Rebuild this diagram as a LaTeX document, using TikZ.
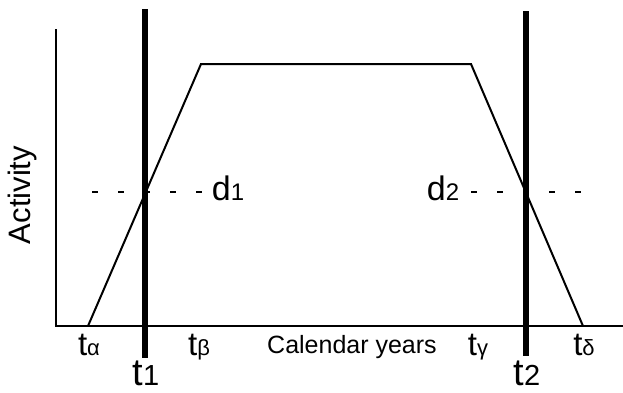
\documentclass[tikz,border=0pt]{standalone}
\usepackage{fontspec}
\setmainfont{Liberation Sans}
\newcommand{\fs}[1]{\fontsize{#1}{#1}\selectfont}

\begin{document}
\begin{tikzpicture}[x=1pt,y=-1pt,
  lbl/.style={inner sep=0pt,anchor=base},
  thin line/.style={line width=2pt},
  cut/.style={line width=6pt},
  level/.style={line width=2pt,dash pattern=on 6pt off 20pt}]
  \useasboundingbox (0,0) rectangle (623,392);
  % axes
  \coordinate (top) at (56,29);
  \coordinate (origin) at (56,326);
  \coordinate (right) at (623,326);
  \draw[thin line] (top) -- (origin) -- (right);
  % activity curve
  \coordinate (ta) at (88,326);
  \coordinate (tb) at (201,64);
  \coordinate (tg) at (471,64);
  \coordinate (td) at (583,326);
  \draw[thin line,line join=miter] (ta) -- (tb) -- (tg) -- (td);
  % the two dates
  \draw[cut] (144.5,9) -- (144.5,358);
  \draw[cut] (526,11) -- (526,356);
  % levels d1, d2
  \draw[level] (92,191.5) -- (203,191.5);
  \draw[level] (471,191.5) -- (581,191.5);
  \node[lbl] (d1) at (228,200) {\fs{34}d\fs{24}1};
  \node[lbl] (d2) at (443,200) {\fs{34}d\fs{24}2};
  % labels
  \node[lbl] (talpha) at (89,355) {\fs{33}t\fs{22}α};
  \node[lbl] (tbeta) at (199,355) {\fs{33}t\fs{22}β};
  \node[lbl] (tgamma) at (478,355) {\fs{33}t\fs{22}γ};
  \node[lbl] (tdelta) at (584,355) {\fs{33}t\fs{22}δ};
  \node[lbl] (tone) at (146,385) {\fs{38}t\fs{29}1};
  \node[lbl] (ttwo) at (527,385) {\fs{38}t\fs{29}2};
  \node[lbl] (xlabel) at (352,353) {\fs{25}Calendar years};
  \node[inner sep=0pt,rotate=90] (ylabel) at (22,195) {\fs{31}Activity};
\end{tikzpicture}
\end{document}
